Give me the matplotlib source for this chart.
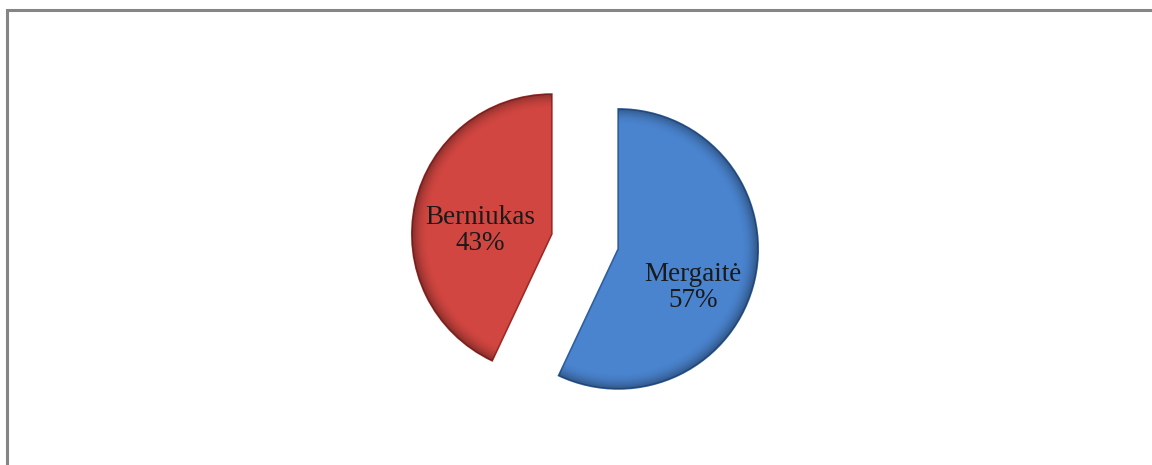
import numpy as np
import matplotlib
matplotlib.use("Agg")
from matplotlib import pyplot as plt

# chart data
labels = ["Mergaitė", "Berniukas"]
shares = [57, 43]
colors = ["#4a84cf", "#d24641"]
edge_colors = ["#2f5f9e", "#9c2b28"]

W, H = 1152, 465
fig = plt.figure(figsize=(W / 100, H / 100), dpi=100)
ax = fig.add_axes([0, 0, 1, 1])

center = (585, 223.5)
radius = 140
wedges, texts = ax.pie(shares, labels=labels, colors=colors, startangle=90,
                       counterclock=False, center=center, radius=radius,
                       explode=[34, 34],
                       wedgeprops=dict(linewidth=1.2))
for w, ec in zip(wedges, edge_colors):
    w.set_edgecolor(ec)

# bevel-like darkening near the rim
for w in wedges:
    cx, cy = w.center
    r = w.r
    xs = np.linspace(cx - r, cx + r, 400)
    ys = np.linspace(cy - r, cy + r, 400)
    X, Y = np.meshgrid(xs, ys)
    rr = np.hypot(X - cx, Y - cy) / r
    img = np.zeros((400, 400, 4))
    img[..., 3] = np.clip((rr - 0.88) / 0.12, 0, 1) ** 2 * 0.35
    im = ax.imshow(img, extent=(cx - r, cx + r, cy - r, cy + r),
                   origin="lower", zorder=w.get_zorder() + 0.5,
                   interpolation="bilinear")
    im.set_clip_path(w)

# labels inside the slices
label_pos = [(0.60, -27), (0.51, 177)]  # (fraction of radius, angle deg)
for w, t, name, pct, (d, ang) in zip(wedges, texts, labels, shares, label_pos):
    cx, cy = w.center
    a = np.deg2rad(ang)
    t.set_text(f"{name}\n{pct}%")
    t.set_position((cx + d * w.r * np.cos(a), cy + d * w.r * np.sin(a)))
    t.set_ha("center")
    t.set_va("center")
    t.set_fontsize(19.5)
    t.set_family("Liberation Serif")
    t.set_color("#1a1a1a")
    t.set_linespacing(1.05)
    t.set_zorder(10)

# outer frame (only left and top visible)
ax.plot([7, 7, W + 10], [-10, H - 10, H - 10], color="#858585", lw=2.2,
        solid_joinstyle="miter")

ax.set_xlim(0, W)
ax.set_ylim(0, H)
ax.set_aspect("auto")
ax.axis("off")

fig.savefig("out.png", dpi=100, facecolor="white")
